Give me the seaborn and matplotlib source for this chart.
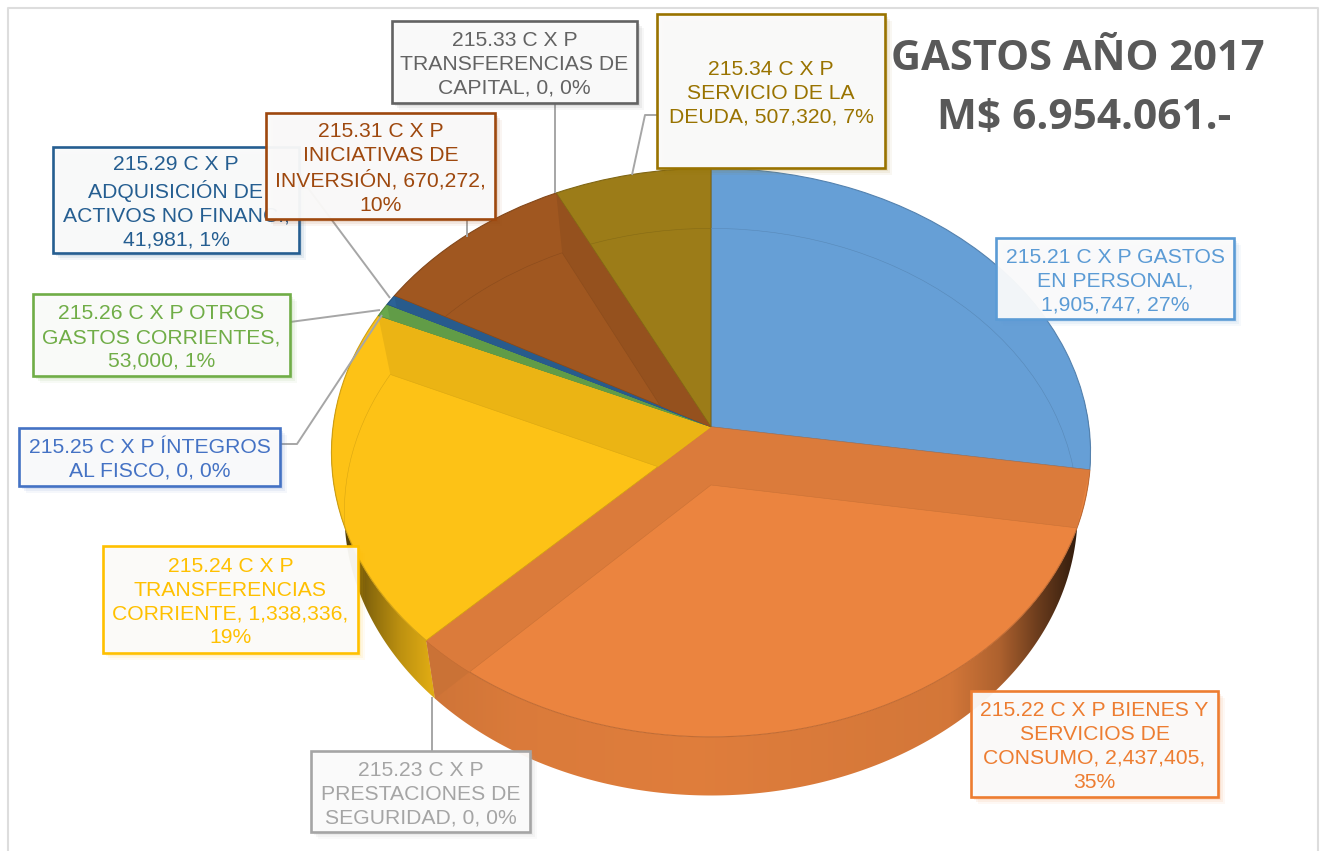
import numpy as np
import matplotlib
matplotlib.use("Agg")
import matplotlib.pyplot as plt
import seaborn as sns
from matplotlib.patches import Polygon, Rectangle
from matplotlib.transforms import Transform
from matplotlib.colors import to_rgb

# ---------- data ----------
codes = ["215.21", "215.22", "215.23", "215.24", "215.25", "215.26", "215.29", "215.31", "215.33", "215.34"]
values = [1905747, 2437405, 0, 1338336, 0, 53000, 41981, 670272, 0, 507320]
labels = [
    "215.21 C X P GASTOS\nEN PERSONAL,\n1,905,747, 27%",
    "215.22 C X P BIENES Y\nSERVICIOS DE\nCONSUMO, 2,437,405,\n35%",
    "215.23 C X P\nPRESTACIONES DE\nSEGURIDAD, 0, 0%",
    "215.24 C X P\nTRANSFERENCIAS\nCORRIENTE, 1,338,336,\n19%",
    "215.25 C X P ÍNTEGROS\nAL FISCO, 0, 0%",
    "215.26 C X P OTROS\nGASTOS CORRIENTES,\n53,000, 1%",
    "215.29 C X P\nADQUISICIÓN DE\nACTIVOS NO FINANC.,\n41,981, 1%",
    "215.31 C X P\nINICIATIVAS DE\nINVERSIÓN, 670,272,\n10%",
    "215.33 C X P\nTRANSFERENCIAS DE\nCAPITAL, 0, 0%",
    "215.34 C X P\nSERVICIO DE LA\nDEUDA, 507,320, 7%",
]
title_lines = ["GASTOS AÑO 2017", "M$ 6.954.061.-"]
series_colors = ["#5B9BD5", "#ED7D31", "#A5A5A5", "#FFC000", "#4472C4", "#70AD47", "#255E91", "#9E480E", "#636363", "#997300"]
face_colors = ["#669FD6", "#EB843F", "#A5A5A5", "#FDC216", "#4472C4", "#68A84C", "#2B6296", "#A05720", "#636363", "#9C7C18"]

# label boxes: x0, y0, x1, y1 in picture pixels
boxes = [
    (996, 238, 1234, 319), (971, 691, 1218, 797), (311, 751, 530, 832),
    (103, 546, 358, 653), (19, 428, 280, 486), (33, 294, 290, 376),
    (53, 147, 299, 253), (266, 113, 495, 219), (392, 21, 637, 103),
    (657, 14, 885, 168),
]
leaders = [
    [(432, 751), (432, 697)],
    [(280, 444), (297, 444), (382, 315)],
    [(290, 322), (380, 310)],
    [(299, 188), (308, 188), (390, 298)],
    [(467, 219), (467, 237)],
    [(555, 103), (555, 193)],
    [(657, 115), (645, 115), (632, 175)],
]

sns.set_theme(style="white")
plt.rcParams["font.family"] = ["Liberation Sans", "DejaVu Sans"]
palette = sns.color_palette(face_colors)


class DiscView(Transform):
    """Perspective view of a flat unit-radius pie lying on a table."""
    input_dims = output_dims = 2
    is_separable = False
    has_inverse = False

    def __init__(self, cx, cy, bx, ay, k):
        super().__init__()
        self.p = (cx, cy, bx, ay, k)

    def transform_non_affine(self, xy):
        cx, cy, bx, ay, k = self.p
        xy = np.asarray(xy, float)
        w = 1 + k * xy[:, 1]
        return np.column_stack([cx + bx * xy[:, 0] / w, cy - ay * xy[:, 1] / w])


def darker(c, f):
    return tuple(f * x for x in to_rgb(c))


top_view = DiscView(711, 427, 378, 282, 0.09)
low_view = DiscView(711, 485, 365, 281, 0.095)

fig = plt.figure(figsize=(13.24, 8.51), dpi=100)
ax = fig.add_axes([0, 0, 1, 1])

top_wedges, _ = ax.pie(values, startangle=90, counterclock=False, colors=palette)
low_wedges, _ = ax.pie(values, startangle=90, counterclock=False, colors=palette)
ax.set_aspect("auto")
ax.set_xlim(0, 1324)
ax.set_ylim(851, 0)
ax.axis("off")

frac = np.cumsum([0] + values) / np.sum(values)
angles = np.pi / 2 - 2 * np.pi * frac


def unit(t):
    return np.column_stack([np.cos(t), np.sin(t)])


# outer walls: shading depends on the horizontal position
grad_x = np.linspace(330, 1095, 380)
shade = np.interp(grad_x, [335, 370, 400, 430, 520, 700, 950, 1000, 1040, 1080],
                  [0.25, 0.55, 0.75, 0.88, 0.93, 0.95, 0.9, 0.74, 0.45, 0.2])
for i, c in enumerate(face_colors):
    if values[i] == 0:
        continue
    t = np.linspace(angles[i], angles[i + 1], 200)
    pts = np.vstack([top_view.transform_non_affine(unit(t)),
                     low_view.transform_non_affine(unit(t[::-1]))])
    wall = Polygon(pts, closed=True, fc="none", ec="none", zorder=1)
    ax.add_patch(wall)
    img = np.array(to_rgb(c))[None, None, :] * shade[None, :, None]
    im = ax.imshow(img, extent=(330, 1095, 810, 400), aspect="auto", zorder=1, interpolation="bilinear")
    im.set_clip_path(wall)
ax.set_xlim(0, 1324)
ax.set_ylim(851, 0)


def cut_quad(a):
    u = unit(np.array([a]))
    return np.vstack([top_view.transform_non_affine(np.zeros((1, 2))),
                      top_view.transform_non_affine(u),
                      low_view.transform_non_affine(u),
                      low_view.transform_non_affine(np.zeros((1, 2)))])


# cut face seen below the rim, between the two big slices
ax.add_patch(Polygon(cut_quad(angles[2]), closed=True, fc=darker(face_colors[1], 0.86), ec="none", zorder=1.5))

# top faces, with the cut faces and the floor rim seen through them
for i, (w, lw_) in enumerate(zip(top_wedges, low_wedges)):
    c = face_colors[i]
    w.set_transform(top_view + ax.transData)
    w.set_zorder(2)
    w.set_clip_on(False)
    if values[i] == 0:
        w.set_visible(False)
        lw_.set_visible(False)
        continue
    w.set_edgecolor(darker(c, 0.82))
    w.set_linewidth(0.8)
    for a in (angles[i], angles[i + 1]):
        q = Polygon(cut_quad(a), closed=True, fc=darker(c, 0.93), ec="none", zorder=2.1)
        ax.add_patch(q)
        q.set_clip_path(w)
    lw_.set_transform(low_view + ax.transData)
    lw_.set_facecolor("none")
    lw_.set_edgecolor(darker(c, 0.86))
    lw_.set_linewidth(0.4)
    lw_.set_zorder(2.2)
    lw_.set_clip_on(True)
    lw_.set_clip_path(w)

# leader lines
for path in leaders:
    xs, ys = zip(*path)
    ax.plot(xs, ys, color="#A6A6A6", lw=1.4, zorder=3, solid_capstyle="butt")

# label boxes
for i, ((x0, y0, x1, y1), txt, col) in enumerate(zip(boxes, labels, series_colors)):
    z = 4 + i * 0.1
    for off, al in ((7, 0.05), (5, 0.08), (3, 0.11)):
        ax.add_patch(Rectangle((x0 + off, y0 + off), x1 - x0, y1 - y0, fc=col, ec="none", alpha=al, zorder=z))
    ax.add_patch(Rectangle((x0, y0), x1 - x0, y1 - y0, fc=(0.985, 0.985, 0.985, 0.95), ec=col, lw=1.9, zorder=z + 0.01))
    ax.text((x0 + x1) / 2, (y0 + y1) / 2 + 2.5, txt, color=col, fontsize=15.2, ha="center", va="center",
            linespacing=1.33, zorder=z + 0.02)

# title
ax.text(1078, 60, title_lines[0], color="#595959", fontsize=30, fontweight="bold", family="Open Sans",
        ha="center", va="center", zorder=6)
ax.text(1084, 119, title_lines[1], color="#595959", fontsize=30.5, fontweight="bold", family="Open Sans",
        ha="center", va="center", zorder=6)

# picture frame
ax.plot([8, 8, 1318, 1318], [851, 8, 8, 851], color="#DDDDDD", lw=1.5, zorder=0.5)

fig.savefig("out.png", dpi=100, facecolor="white")
